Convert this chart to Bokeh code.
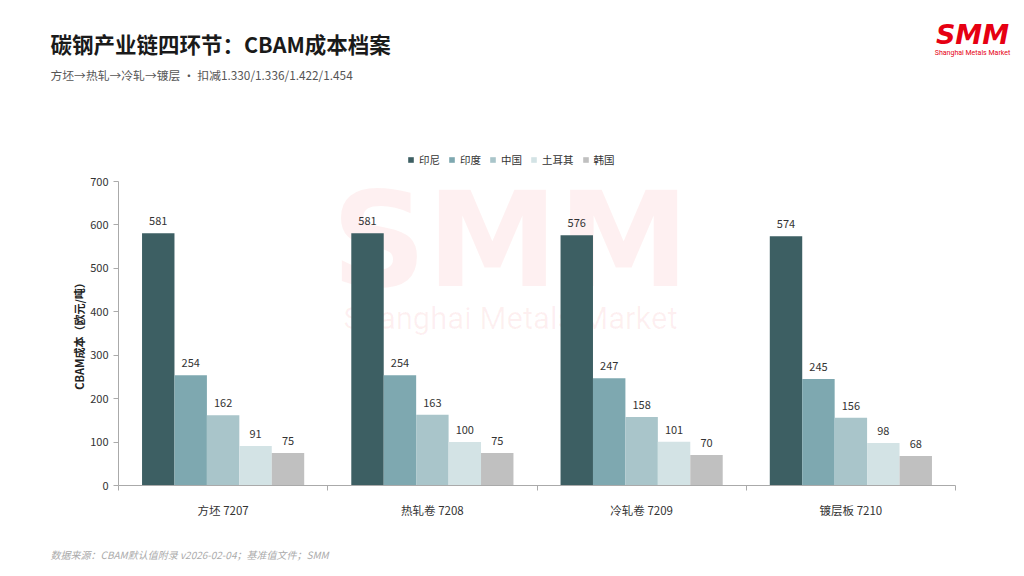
from bokeh.plotting import figure
from bokeh.models import ColumnDataSource, Range1d, FixedTicker, Label, Legend, LegendItem
from bokeh.embed import file_html
from bokeh.resources import INLINE
from bokeh.core.properties import value

# ---- data ----
categories = ["方坯 7207", "热轧卷 7208", "冷轧卷 7209", "镀层板 7210"]
series_names = ["印尼", "印度", "中国", "土耳其", "韩国"]
indonesia = [581, 581, 576, 574]
india = [254, 254, 247, 245]
china = [162, 163, 158, 156]
turkey = [91, 100, 101, 98]
korea = [75, 75, 70, 68]
y_tick_values = [0, 100, 200, 300, 400, 500, 600, 700]

series_values = [indonesia, india, china, turkey, korea]
colors = ["#3d5f63", "#7ea8b0", "#a9c5ca", "#d3e3e5", "#c0c0c0"]

FONT = "Noto Sans CJK SC"

# ---- layout constants (pixels on the canvas) ----
W, H = 1016, 568
AX_LEFT, AX_RIGHT = 118, 955      # plot area left/right
AX_BOTTOM, AX_TOP = 485, 181      # y=0 and y=700 pixel rows
Y_MAX = 700
n_cat = len(categories)
px_per_x = (AX_RIGHT - AX_LEFT) / n_cat
px_per_y = (AX_BOTTOM - AX_TOP) / Y_MAX

x_range = Range1d(-AX_LEFT / px_per_x, (W - AX_LEFT) / px_per_x)
y_range = Range1d(-(H - AX_BOTTOM) / px_per_y, AX_BOTTOM / px_per_y)

p = figure(width=W, height=H, output_backend="svg", toolbar_location=None,
           x_range=x_range, y_range=y_range)
p.min_border = 0
p.min_border_left = 0
p.min_border_right = 0
p.min_border_top = 0
p.min_border_bottom = 0
p.outline_line_color = None
p.xgrid.visible = False
p.ygrid.visible = False
p.background_fill_color = "white"
p.border_fill_color = "white"


def sx(px):
    return px


def sy(py):
    return H - py


# watermark (behind bars)
p.add_layout(Label(x=sx(510), y=sy(239), x_units="screen", y_units="screen", text="SMM",
                   text_font="DejaVu Sans", text_font_style="bold", text_font_size="132px",
                   text_color="#e60012", text_alpha=0.06, text_align="center",
                   text_baseline="middle", level="underlay"))
p.add_layout(Label(x=sx(510), y=sy(318), x_units="screen", y_units="screen",
                   text="Shanghai Metals Market", text_font="Roboto", text_font_size="31px",
                   text_color="#e60012", text_alpha=0.06, text_align="center",
                   text_baseline="middle", level="underlay"))

bar_w = 0.155
n = len(series_names)
items = []
for k, (name, vals, col) in enumerate(zip(series_names, series_values, colors)):
    off = (k - (n - 1) / 2) * bar_w
    xs = [i + 0.5 + off for i in range(n_cat)]
    src = ColumnDataSource(dict(x=xs, top=vals, label=[str(v) for v in vals]))
    r = p.vbar(x="x", top="top", bottom=0, width=bar_w, source=src, fill_color=col,
               line_color=None)
    p.text(x="x", y="top", text="label", source=src, text_align="center",
           text_baseline="bottom", y_offset=-8, text_font=value(FONT),
           text_font_size="11px", text_color="#333333")
    items.append(LegendItem(label=name, renderers=[r]))

legend = Legend(items=items, orientation="horizontal", location=(sx(407), sy(167)),
                glyph_width=7, glyph_height=7, label_text_font=FONT,
                label_text_font_size="10.5px", label_text_color="#333333",
                spacing=8, label_standoff=5, border_line_color=None,
                background_fill_alpha=0, padding=4, margin=0,
                label_height=12)
p.add_layout(legend)

# x axis
xa = p.xaxis[0]
xa.fixed_location = 0
xa.bounds = (0, n_cat)
xa.ticker = FixedTicker(ticks=[i + 0.5 for i in range(n_cat)],
                        minor_ticks=list(range(n_cat + 1)))
xa.major_label_overrides = {i + 0.5: c for i, c in enumerate(categories)}
xa.major_tick_line_color = None
xa.minor_tick_line_color = "#aaaaaa"
xa.minor_tick_out = 5
xa.minor_tick_in = 0
xa.axis_line_color = "#aaaaaa"
xa.major_label_text_font = FONT
xa.major_label_text_font_size = "11.5px"
xa.major_label_text_color = "#333333"
xa.major_label_standoff = 10

# y axis
ya = p.yaxis[0]
ya.fixed_location = 0
ya.bounds = (0, Y_MAX)
ya.ticker = FixedTicker(ticks=y_tick_values)
ya.minor_tick_line_color = None
ya.major_tick_line_color = "#aaaaaa"
ya.major_tick_out = 5
ya.major_tick_in = 0
ya.axis_line_color = "#aaaaaa"
ya.major_label_text_font = FONT
ya.major_label_text_font_size = "11px"
ya.major_label_text_color = "#333333"

# y axis title (rotated)
p.add_layout(Label(x=sx(78), y=sy(333), x_units="screen", y_units="screen",
                   text="CBAM成本（欧元/吨）", text_font=FONT, text_font_style="bold",
                   text_font_size="11px", text_color="#222222", angle=90,
                   angle_units="deg", text_align="center", text_baseline="middle"))

# titles, footer, logo
p.add_layout(Label(x=sx(50), y=sy(43), x_units="screen", y_units="screen",
                   text="碳钢产业链四环节：CBAM成本档案", text_font=FONT,
                   text_font_style="bold", text_font_size="21.5px",
                   text_color="#1a1a1a", text_baseline="middle"))
p.add_layout(Label(x=sx(50), y=sy(74), x_units="screen", y_units="screen",
                   text="方坯→热轧→冷轧→镀层 · 扣减1.330/1.336/1.422/1.454", text_font=FONT,
                   text_font_size="11.8px", text_color="#555555", text_baseline="middle"))
p.add_layout(Label(x=sx(50), y=sy(554), x_units="screen", y_units="screen",
                   text="数据来源：CBAM默认值附录 v2026-02-04；基准值文件；SMM", text_font=FONT,
                   text_font_style="italic", text_font_size="10px",
                   text_color="#aaaaaa", text_baseline="middle"))
p.add_layout(Label(x=sx(972), y=sy(34), x_units="screen", y_units="screen", text="SMM",
                   text_font="DejaVu Sans", text_font_style="bold italic", text_font_size="27px",
                   text_color="#e60012", text_align="center", text_baseline="middle"))
p.add_layout(Label(x=sx(972), y=sy(52), x_units="screen", y_units="screen",
                   text="Shanghai Metals Market", text_font="Roboto", text_font_size="7px",
                   text_color="#e60012", text_align="center", text_baseline="middle"))

open("out.html", "w").write(file_html(p, INLINE))
